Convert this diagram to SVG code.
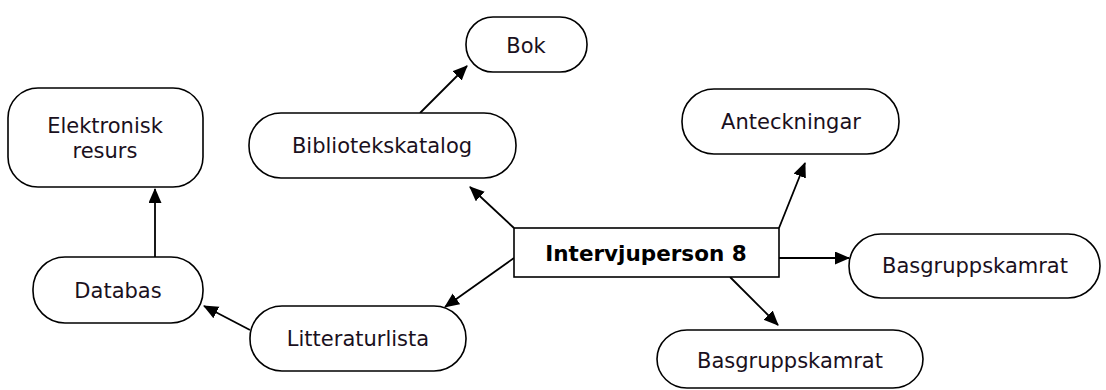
<svg xmlns="http://www.w3.org/2000/svg" width="1106" height="390" viewBox="0 0 1106 390">
  <style>
    .node { fill: #ffffff; stroke: #000000; stroke-width: 1.6; }
    .label { font-family: "DejaVu Sans", Verdana, sans-serif; font-size: 21px; fill: #1a1020; text-anchor: middle; }
    .bold { font-weight: bold; fill: #000000; font-size: 21.5px; }
    .edge { stroke: #000000; stroke-width: 1.8; fill: none; marker-end: url(#arrow); }
  </style>
  <defs>
    <marker id="arrow" markerUnits="userSpaceOnUse" markerWidth="16" markerHeight="14" refX="14" refY="6.5" orient="auto">
      <path d="M0,0 L15,6.5 L0,13 z" fill="#000000"/>
    </marker>
  </defs>

  <rect width="1106" height="390" fill="#ffffff"/>

  <g id="connectors">
    <line class="edge" x1="155" y1="257" x2="155" y2="189"/>
    <line class="edge" x1="420" y1="113" x2="467" y2="66"/>
    <line class="edge" x1="514" y1="228" x2="470" y2="187"/>
    <line class="edge" x1="514" y1="258" x2="445" y2="307"/>
    <line class="edge" x1="250" y1="330" x2="204" y2="306"/>
    <line class="edge" x1="779" y1="228" x2="805" y2="163"/>
    <line class="edge" x1="779" y1="258" x2="849" y2="258"/>
    <line class="edge" x1="730" y1="277" x2="778" y2="325"/>
  </g>

  <g id="elektronisk-resurs">
    <rect class="node" x="8" y="88" width="195" height="99" rx="30" ry="30"/>
    <text class="label" x="105" y="133">Elektronisk</text>
    <text class="label" x="105" y="158">resurs</text>
  </g>

  <g id="bok">
    <rect class="node" x="466" y="17" width="121" height="55" rx="27" ry="27"/>
    <text class="label" x="526" y="53">Bok</text>
  </g>

  <g id="bibliotekskatalog">
    <rect class="node" x="249" y="113" width="267" height="65" rx="32" ry="32"/>
    <text class="label" x="382" y="153">Bibliotekskatalog</text>
  </g>

  <g id="anteckningar">
    <rect class="node" x="682" y="89" width="217" height="65" rx="32" ry="32"/>
    <text class="label" x="791" y="129">Anteckningar</text>
  </g>

  <g id="intervjuperson-8">
    <rect class="node" x="514" y="228" width="265" height="49" rx="0" ry="0" stroke-width="2"/>
    <text class="label bold" x="646" y="261">Intervjuperson 8</text>
  </g>

  <g id="basgruppskamrat-1">
    <rect class="node" x="849" y="234" width="251" height="64" rx="32" ry="32"/>
    <text class="label" x="975" y="273">Basgruppskamrat</text>
  </g>

  <g id="basgruppskamrat-2">
    <rect class="node" x="657" y="330" width="266" height="58" rx="30" ry="29"/>
    <text class="label" x="790" y="368">Basgruppskamrat</text>
  </g>

  <g id="databas">
    <rect class="node" x="33" y="257" width="170" height="66" rx="32" ry="32"/>
    <text class="label" x="118" y="298">Databas</text>
  </g>

  <g id="litteraturlista">
    <rect class="node" x="250" y="306" width="216" height="65" rx="32" ry="32"/>
    <text class="label" x="358" y="346">Litteraturlista</text>
  </g>
</svg>
